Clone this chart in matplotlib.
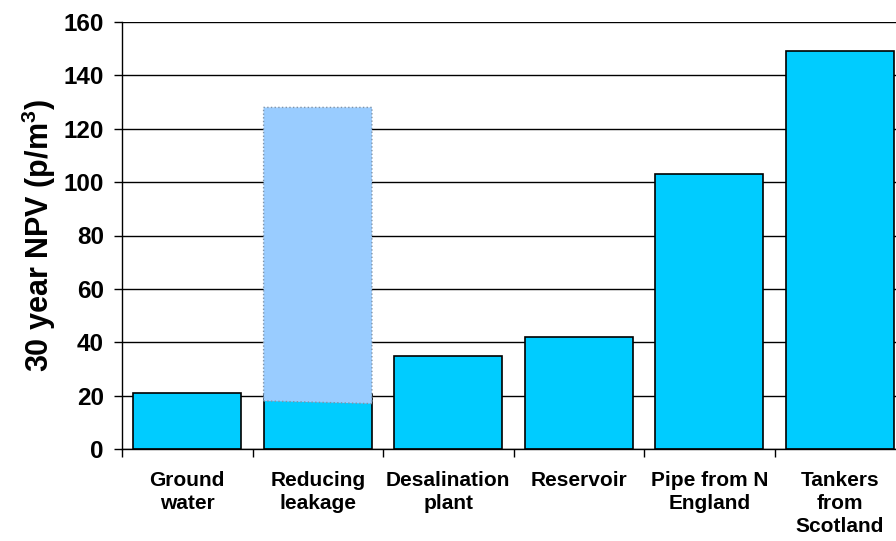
import matplotlib

matplotlib.use("Agg")

import matplotlib.pyplot as plt
import numpy as np
from matplotlib.ticker import FixedLocator, NullFormatter

plt.rcParams["font.family"] = ["Liberation Sans", "DejaVu Sans"]
plt.rcParams["mathtext.fontset"] = "custom"
plt.rcParams["mathtext.bf"] = "Liberation Sans:bold"
plt.rcParams["mathtext.rm"] = "Liberation Sans"

categories = [
    "Ground\nwater",
    "Reducing\nleakage",
    "Desalination\nplant",
    "Reservoir",
    "Pipe from N\nEngland",
    "Tankers\nfrom\nScotland",
]
npv = [21, 20.5, 35, 42, 103, 149]

# leakage range drawn as a light band over the bar
leak_low_left = 18
leak_low_right = 17
leak_high = 128
leak_index = 1

y_ticks = [0, 20, 40, 60, 80, 100, 120, 140, 160]

CYAN = "#00CCFF"
LIGHT = "#99CCFF"
BAR_WIDTH = 0.83

fig = plt.figure(figsize=(8.96, 5.41), dpi=100)
ax = fig.add_axes([122 / 896, 1 - 449 / 541, (905 - 122) / 896, (449 - 22) / 541])

x = np.arange(len(categories))

ax.bar(x, npv, width=BAR_WIDTH, color=CYAN, edgecolor="black", linewidth=1.2, zorder=2)

x0 = x[leak_index] - BAR_WIDTH / 2
x1 = x[leak_index] + BAR_WIDTH / 2
ax.fill(
    [x0, x1, x1, x0],
    [leak_low_left, leak_low_right, leak_high, leak_high],
    facecolor=LIGHT,
    edgecolor="#7f93a8",
    linestyle=":",
    linewidth=1.0,
    zorder=3,
)

ax.set_xlim(-0.5, len(categories) - 0.5)
ax.set_ylim(0, 160)
ax.set_yticks(y_ticks)
ax.yaxis.grid(True, color="black", linewidth=1.0, zorder=0)
ax.set_axisbelow(True)

ax.xaxis.set_major_locator(FixedLocator(np.arange(-0.5, len(categories), 1.0)))
ax.xaxis.set_major_formatter(NullFormatter())
ax.xaxis.set_minor_locator(FixedLocator(x))
ax.set_xticklabels(
    categories, minor=True, fontsize=15, fontweight="bold", linespacing=1.25
)
ax.tick_params(axis="x", which="minor", length=0, pad=16)
ax.tick_params(axis="x", which="major", length=6, width=1.0, direction="out")
ax.tick_params(axis="y", length=6, width=1.0, direction="out", pad=7, labelsize=17.5)
for lbl in ax.get_yticklabels():
    lbl.set_fontweight("bold")

ax.set_ylabel("30 year NPV (p/m$^\\mathbf{3}$)", fontsize=22, fontweight="bold", labelpad=4)

for side in ["top", "right"]:
    ax.spines[side].set_visible(False)
for side in ["left", "bottom"]:
    ax.spines[side].set_color("black")
    ax.spines[side].set_linewidth(1.0)

fig.savefig("out.png", dpi=100)
